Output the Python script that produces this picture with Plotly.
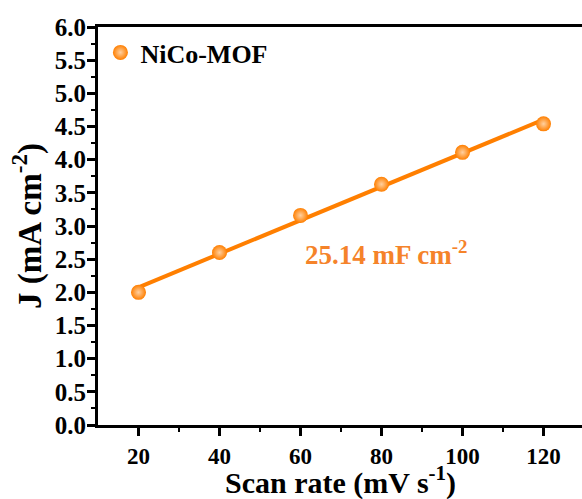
import numpy as np
import plotly.graph_objects as go

# Scan rate (mV s^-1) and current density (mA cm^-2)
scan_rate = [20, 40, 60, 80, 100, 120]
current_density = [2.00, 2.60, 3.16, 3.63, 4.11, 4.54]
series_name = "NiCo-MOF"
cdl_label = "25.14 mF cm<sup>-2</sup>"
x_title = "Scan rate (mV s<sup>-1</sup>)"
y_title = "J (mA cm<sup>-2</sup>)"

y_ticks = [0.0, 0.5, 1.0, 1.5, 2.0, 2.5, 3.0, 3.5, 4.0, 4.5, 5.0, 5.5, 6.0]
x_ticks = [20, 40, 60, 80, 100, 120]

ORANGE = "#FF7F00"
FONT = "Liberation Serif"

# Linear fit of J vs scan rate
slope, intercept = np.polyfit(scan_rate, current_density, 1)
fit_x = np.array([scan_rate[0], scan_rate[-1]])
fit_y = slope * fit_x + intercept

fig = go.Figure()
fig.add_trace(go.Scatter(
    x=fit_x, y=fit_y, mode="lines",
    line=dict(color=ORANGE, width=4),
    showlegend=False, hoverinfo="skip",
))
fig.add_trace(go.Scatter(
    x=scan_rate, y=current_density, mode="markers", name=series_name,
    marker=dict(size=15, color=ORANGE,
                gradient=dict(type="radial", color="#FFD0A0"),
                line=dict(width=0)),
))

fig.add_annotation(
    x=81, y=2.59, text=cdl_label, showarrow=False,
    font=dict(family=FONT, size=27, color="#F5832A", weight="bold"),
)

# x-axis title pinned to the bottom edge of the page
fig.add_annotation(
    xref="paper", yref="paper", x=0.5, y=-0.19,
    xanchor="center", yanchor="bottom", borderpad=0,
    text=x_title, showarrow=False,
    font=dict(family=FONT, size=30, color="black", weight="bold"),
)

axis_common = dict(
    showline=True, linecolor="black", linewidth=3,
    ticks="outside", ticklen=8, tickwidth=3, tickcolor="black",
    showgrid=False, zeroline=False, automargin=False,
)

fig.update_xaxes(
    **axis_common, range=[10, 129.5], mirror=True,
    tickmode="array", tickvals=x_ticks,
    tickfont=dict(family=FONT, size=23, color="black", weight="bold"),
    minor=dict(ticks="outside", ticklen=4, tickwidth=2, tickcolor="black",
               tickmode="array", tickvals=[30, 50, 70, 90, 110]),
)
fig.update_yaxes(
    **axis_common, range=[0, 6], mirror=False,
    tickmode="array", tickvals=y_ticks,
    ticktext=[f"{v:.1f}" for v in y_ticks],
    tickfont=dict(family=FONT, size=25, color="black", weight="bold"),
    ticklabelstandoff=-4,
    minor=dict(ticks="outside", ticklen=4, tickwidth=2, tickcolor="black",
               tickmode="array",
               tickvals=[0.25 + 0.5 * i for i in range(12)]),
    title=dict(text=y_title, standoff=4,
               font=dict(family=FONT, size=33, color="black", weight="bold")),
)

fig.update_layout(
    width=582, height=499,
    margin=dict(l=98, r=0, t=27, b=74),
    paper_bgcolor="white", plot_bgcolor="white",
    legend=dict(x=0.005, y=0.995, xanchor="left", yanchor="top",
                bgcolor="rgba(0,0,0,0)",
                font=dict(family=FONT, size=26, color="black", weight="bold")),
)

fig.write_html("out.html")
